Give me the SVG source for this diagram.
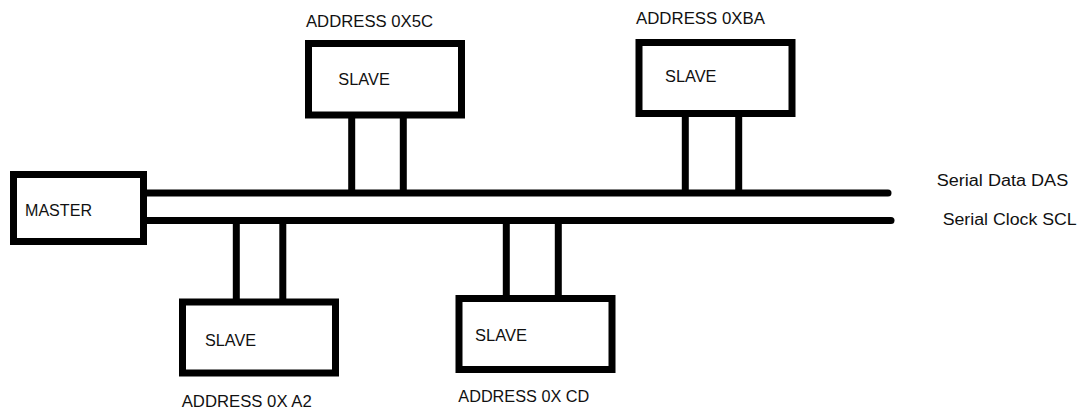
<svg xmlns="http://www.w3.org/2000/svg" width="1085" height="408" viewBox="0 0 1085 408">
<style>
.box{fill:#fff;stroke:#000;stroke-width:7}
.wire{stroke:#000;stroke-width:7;fill:none}
.bus{stroke:#000;stroke-width:7;fill:none;stroke-linecap:round}
text{font-family:"Liberation Sans",Arial,sans-serif;font-size:16px;fill:#111}
</style>
<rect width="1085" height="408" fill="#fff"/>
<g id="connectors">
<line class="bus" x1="145" y1="193" x2="888" y2="193"/>
<line class="bus" x1="145" y1="220.5" x2="891" y2="220.5"/>
<line class="wire" x1="351.7" y1="116" x2="351.7" y2="191"/>
<line class="wire" x1="403.3" y1="116" x2="403.3" y2="191"/>
<line class="wire" x1="685.3" y1="114" x2="685.3" y2="191"/>
<line class="wire" x1="738.7" y1="114" x2="738.7" y2="191"/>
<line class="wire" x1="236.3" y1="222" x2="236.3" y2="300"/>
<line class="wire" x1="282.8" y1="222" x2="282.8" y2="300"/>
<line class="wire" x1="506.3" y1="222" x2="506.3" y2="297"/>
<line class="wire" x1="558.3" y1="222" x2="558.3" y2="297"/>
</g>
<g id="master">
<rect class="box" x="13.5" y="174.5" width="130" height="67"/>
<text x="25" y="215.5" textLength="67" lengthAdjust="spacingAndGlyphs">MASTER</text>
</g>
<g id="slave-5c">
<rect class="box" x="308.5" y="43.5" width="153" height="71.5"/>
<text x="338.3" y="85" textLength="51.5" lengthAdjust="spacingAndGlyphs">SLAVE</text>
<text x="306" y="27.3" textLength="127" lengthAdjust="spacingAndGlyphs">ADDRESS 0X5C</text>
</g>
<g id="slave-ba">
<rect class="box" x="639" y="42.5" width="153" height="71"/>
<text x="665" y="81.7" textLength="51.5" lengthAdjust="spacingAndGlyphs">SLAVE</text>
<text x="636" y="24" textLength="129" lengthAdjust="spacingAndGlyphs">ADDRESS 0XBA</text>
</g>
<g id="slave-a2">
<rect class="box" x="182.5" y="302" width="153" height="71"/>
<text x="205" y="345.5" textLength="51" lengthAdjust="spacingAndGlyphs">SLAVE</text>
<text x="181.7" y="407" textLength="130" lengthAdjust="spacingAndGlyphs">ADDRESS 0X A2</text>
</g>
<g id="slave-cd">
<rect class="box" x="459" y="298.5" width="153" height="71"/>
<text x="475" y="341" textLength="52" lengthAdjust="spacingAndGlyphs">SLAVE</text>
<text x="458.3" y="401.5" textLength="131" lengthAdjust="spacingAndGlyphs">ADDRESS 0X CD</text>
</g>
<g id="bus-labels">
<text x="936.7" y="186" textLength="131.5" lengthAdjust="spacingAndGlyphs">Serial Data DAS</text>
<text x="942.7" y="225" textLength="134" lengthAdjust="spacingAndGlyphs">Serial Clock SCL</text>
</g>
</svg>
